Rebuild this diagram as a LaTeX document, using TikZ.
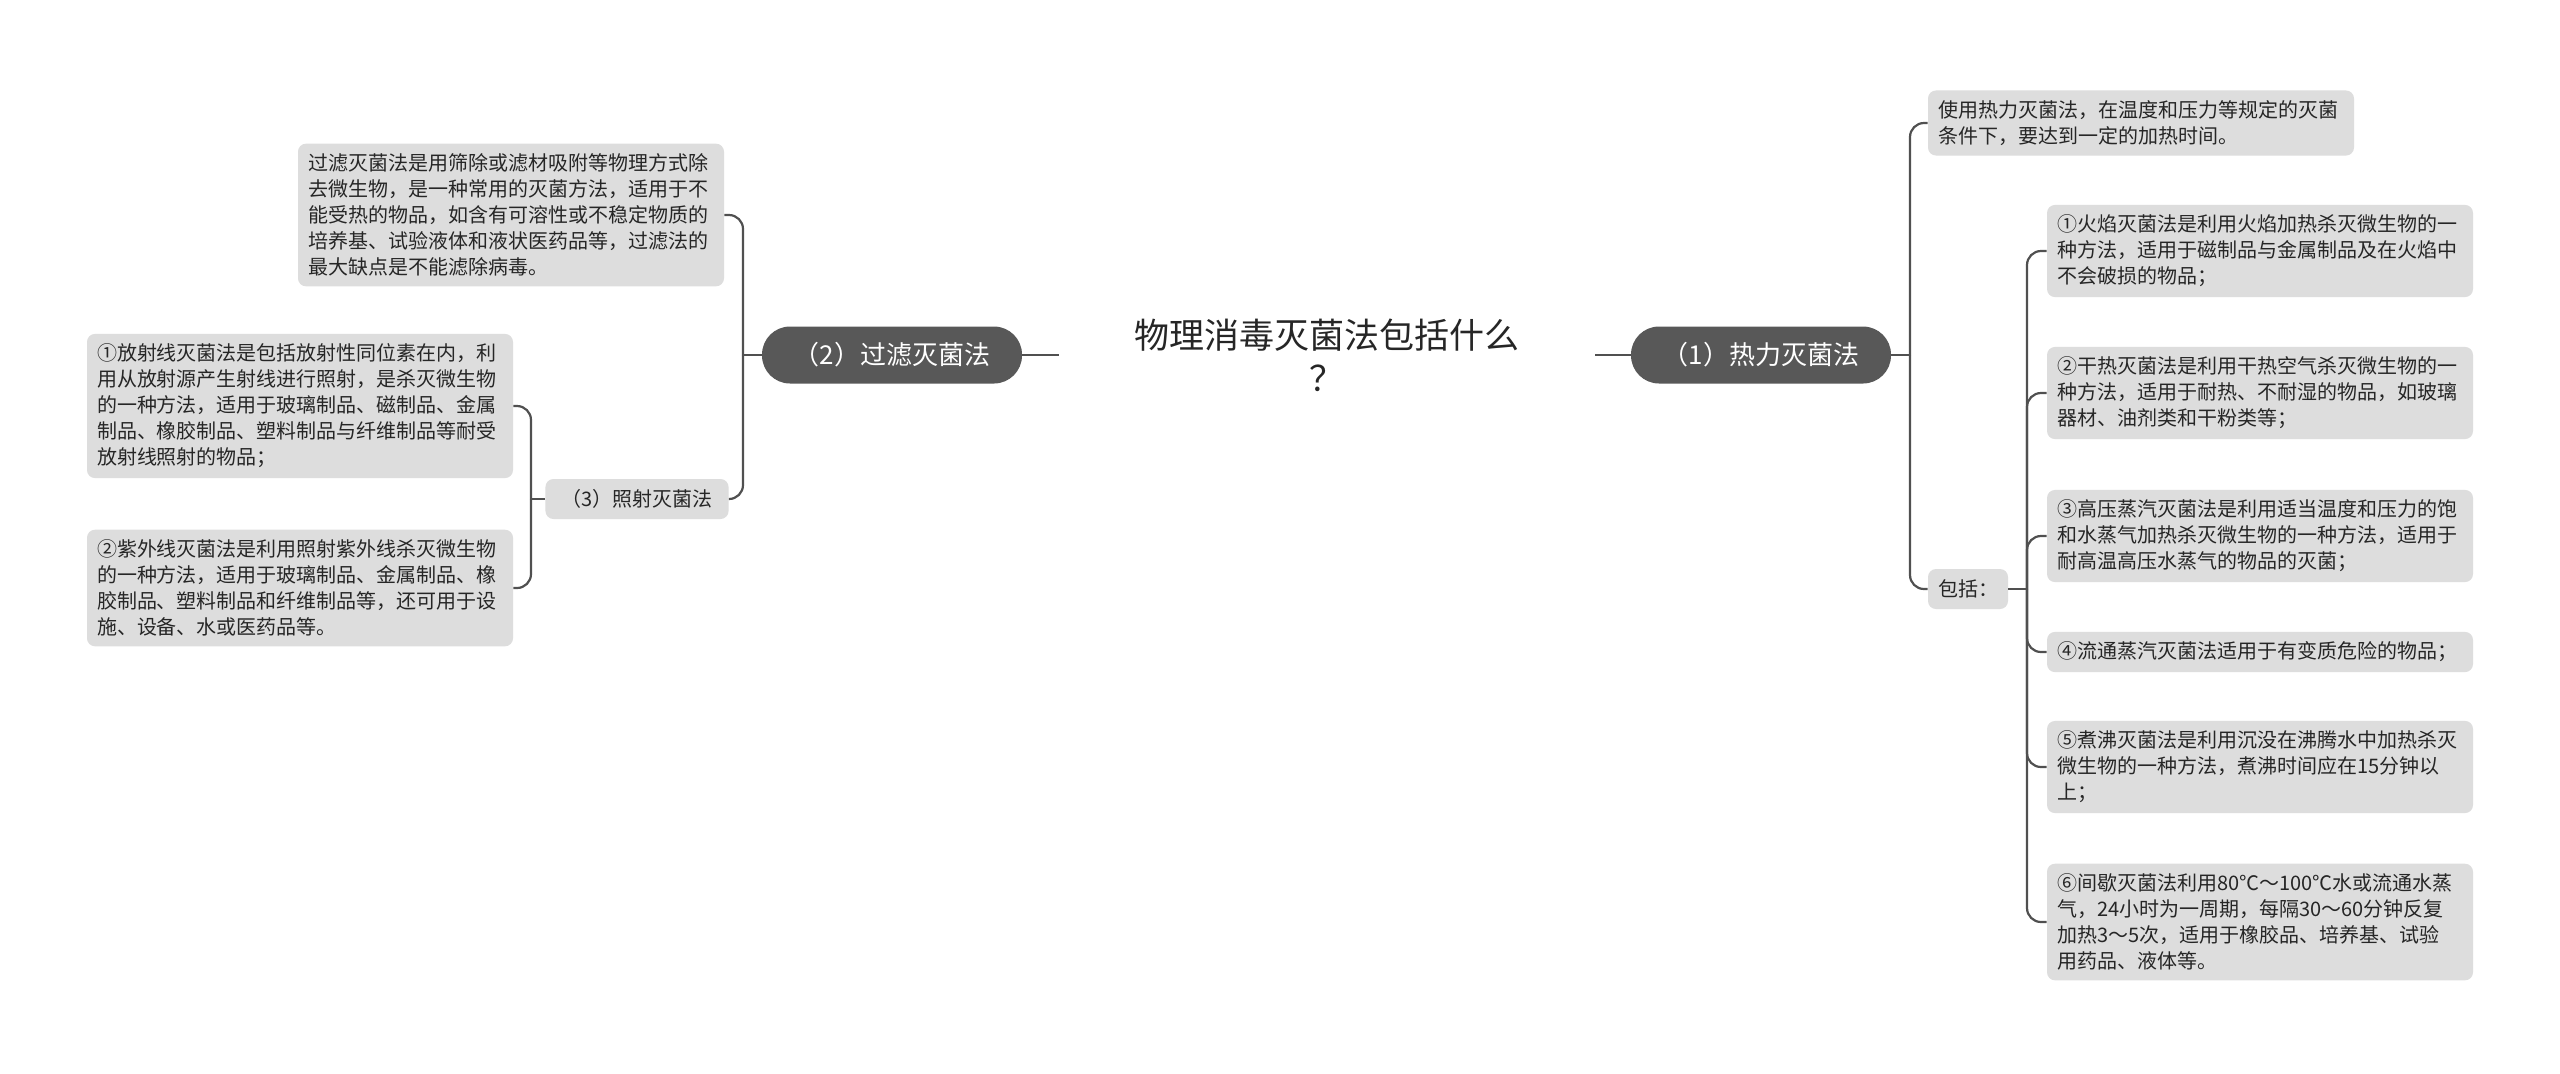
\documentclass[tikz,border=0pt]{standalone}
\usepackage{fontspec}
\newfontfamily\cjk{Noto Sans CJK SC}
\usepackage{tikz}
\usetikzlibrary{positioning}
\usepackage{xcolor}
\definecolor{boxgray}{RGB}{221,221,221}
\definecolor{pillgray}{RGB}{88,88,88}
\definecolor{linegray}{RGB}{80,80,80}
\definecolor{inkgray}{RGB}{38,38,38}

\begin{document}
\begin{tikzpicture}[
    x=0.5pt, y=-0.5pt,
    desc/.style={rectangle, fill=boxgray, rounded corners=4pt, text=inkgray, font=\cjk\fontsize{10}{13}\selectfont, align=left, text width=203pt, inner xsep=5pt, inner ysep=5pt},
    tag/.style={rectangle, fill=boxgray, rounded corners=4pt, text=inkgray, font=\cjk\fontsize{10}{13}\selectfont, minimum height=20pt, inner xsep=5pt},
    pill/.style={rectangle, fill=pillgray, rounded corners=14pt, text=white, font=\cjk\fontsize{13}{15}\selectfont, minimum width=130pt, minimum height=28.5pt},
    link/.style={draw=linegray, line width=1.1pt, rounded corners=7pt}
]
    \fill[white] (0,0) rectangle (2560,1073);
    \useasboundingbox (0,0) rectangle (2560,1073);

    % centre and main branches
    \node[font=\cjk\fontsize{17.5}{21.5}\selectfont, text=inkgray, align=center, minimum width=268pt, inner sep=0pt] (title) at (1327,355) {物理消毒灭菌法包括什么\\？};
    \node[pill] (filt) at (892,355) {（2）过滤灭菌法};
    \node[pill] (heat) at (1761,355) {（1）热力灭菌法};

    % left side
    \node[desc] (filtdesc) at (511,215) {过滤灭菌法是用筛除或滤材吸附等物理方式除\\去微生物，是一种常用的灭菌方法，适用于不\\能受热的物品，如含有可溶性或不稳定物质的\\培养基、试验液体和液状医药品等，过滤法的\\最大缺点是不能滤除病毒。};
    \node[tag, inner xsep=8pt] (rad) at (637,499) {（3）照射灭菌法};
    \node[desc] (radA) at (300,406) {①放射线灭菌法是包括放射性同位素在内，利\\用从放射源产生射线进行照射，是杀灭微生物\\的一种方法，适用于玻璃制品、磁制品、金属\\制品、橡胶制品、塑料制品与纤维制品等耐受\\放射线照射的物品；};
    \node[desc] (radB) at (300,588) {②紫外线灭菌法是利用照射紫外线杀灭微生物\\的一种方法，适用于玻璃制品、金属制品、橡\\胶制品、塑料制品和纤维制品等，还可用于设\\施、设备、水或医药品等。};

    % right side
    \node[desc] (heatdesc) at (2141,123) {使用热力灭菌法，在温度和压力等规定的灭菌\\条件下，要达到一定的加热时间。};
    \node[tag] (incl) at (1968,589) {包括：};
    \node[desc] (hA) at (2260,251) {①火焰灭菌法是利用火焰加热杀灭微生物的一\\种方法，适用于磁制品与金属制品及在火焰中\\不会破损的物品；};
    \node[desc] (hB) at (2260,393) {②干热灭菌法是利用干热空气杀灭微生物的一\\种方法，适用于耐热、不耐湿的物品，如玻璃\\器材、油剂类和干粉类等；};
    \node[desc] (hC) at (2260,536) {③高压蒸汽灭菌法是利用适当温度和压力的饱\\和水蒸气加热杀灭微生物的一种方法，适用于\\耐高温高压水蒸气的物品的灭菌；};
    \node[desc] (hD) at (2260,652) {④流通蒸汽灭菌法适用于有变质危险的物品；};
    \node[desc] (hE) at (2260,767) {⑤煮沸灭菌法是利用沉没在沸腾水中加热杀灭\\微生物的一种方法，煮沸时间应在15分钟以\\上；};
    \node[desc] (hF) at (2260,922) {⑥间歇灭菌法利用80℃～100℃水或流通水蒸\\气，24小时为一周期，每隔30～60分钟反复\\加热3～5次，适用于橡胶品、培养基、试验\\用药品、液体等。};

    % connectors
    \draw[link] (title.west) -- (filt.east);
    \draw[link] (title.east) -- (heat.west);

    \coordinate (lbus) at (743,355);
    \draw[link] (filt.west) -- (lbus);
    \draw[link] (lbus) |- (filtdesc.east);
    \draw[link] (lbus) |- (rad.east);

    \coordinate (rbus) at (531,499);
    \draw[link] (rad.west) -- (rbus);
    \draw[link] (rbus) |- (radA.east);
    \draw[link] (rbus) |- (radB.east);

    \coordinate (hbus) at (1910,355);
    \draw[link] (heat.east) -- (hbus);
    \draw[link] (hbus) |- (heatdesc.west);
    \draw[link] (hbus) |- (incl.west);

    \coordinate (ibus) at (2027,589);
    \draw[link] (incl.east) -- (ibus);
    \foreach \n in {hA,hB,hC,hD,hE,hF}
        \draw[link] (ibus) |- (\n.west);
\end{tikzpicture}
\end{document}
